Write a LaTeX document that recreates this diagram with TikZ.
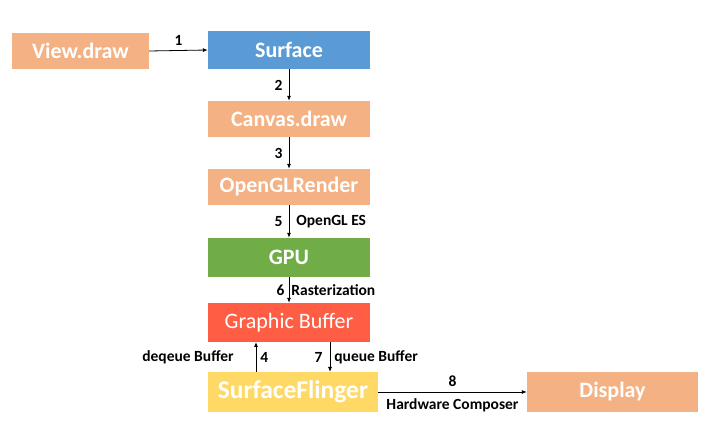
\documentclass[tikz,border=0pt]{standalone}
\usepackage{fontspec}
\setmainfont{Carlito}
\usetikzlibrary{arrows.meta}
\definecolor{peach}{HTML}{F4B183}
\definecolor{sblue}{HTML}{5B9BD5}
\definecolor{sgreen}{HTML}{70AD47}
\definecolor{sred}{HTML}{FF5E45}
\definecolor{syellow}{HTML}{FFD966}
\tikzset{
  box/.style={draw=none, inner sep=0pt, text=white, font=\fontsize{22}{24}\selectfont\bfseries},
  lbl/.style={font=\fontsize{15.5}{17}\selectfont\bfseries, text=black, inner sep=1pt},
  conn/.style={-{Latex[length=5pt,width=4pt]}, line width=0.8pt}
}
\begin{document}
\begin{tikzpicture}[x=1pt,y=-1pt]
\useasboundingbox (0,0) rectangle (718,435);
\node[box, fill=peach, minimum width=137pt, minimum height=36pt] (view) at (80.5,51) {View.draw};
\node[box, fill=sblue, minimum width=162pt, minimum height=38pt] (surf) at (289,50) {Surface};
\node[box, fill=peach, minimum width=162pt, minimum height=36pt] (canvas) at (289,119) {Canvas.draw};
\node[box, fill=peach, minimum width=162pt, minimum height=36pt] (ogl) at (289,187) {OpenGLRender};
\node[box, fill=sgreen, minimum width=162pt, minimum height=39pt] (gpu) at (289,257.5) {GPU};
\node[box, fill=sred, minimum width=162pt, minimum height=39pt, font=\fontsize{22}{24}\selectfont] (gb) at (289,322.5) {Graphic Buffer};
\node[box, fill=syellow, minimum width=170pt, minimum height=40pt, font=\fontsize{25.5}{27}\selectfont\bfseries] (sf) at (293,392) {SurfaceFlinger};
\node[box, fill=peach, minimum width=171pt, minimum height=40pt] (disp) at (612.5,392) {Display};

\draw[conn] (view.east) -- (surf.west) node[lbl, midway, above=4pt] (l1) {1};
\draw[conn] (surf.south) -- (canvas.north) node[lbl, midway, left=5pt] (l2) {2};
\draw[conn] (canvas.south) -- (ogl.north) node[lbl, midway, left=5pt] (l3) {3};
\draw[conn] (ogl.south) -- (gpu.north) node[lbl, midway, left=5pt] (l5) {5}
  node[lbl, midway, right=6pt] (l5b) {OpenGL ES};
\draw[conn] (gpu.south) -- (gb.north) node[lbl, midway, left=3pt] (l6) {6}
  node[lbl, midway, right=1pt] (l6b) {Rasterization};
\coordinate (c4a) at (256,372);
\coordinate (c4b) at (256,342);
\draw[conn] (c4a) -- (c4b) node[lbl, midway, right=3pt] (l4) {4}
  node[lbl, midway, left=21pt] (l4b) {deqeue Buffer};
\coordinate (c7a) at (330,342);
\coordinate (c7b) at (330,372);
\draw[conn] (c7a) -- (c7b) node[lbl, midway, left=6pt] (l7) {7}
  node[lbl, midway, right=3pt] (l7b) {queue Buffer};
\draw[conn] (sf.east) -- (disp.west) node[lbl, midway, above=4pt] (l8) {8}
  node[lbl, midway, below=5pt] (l8b) {Hardware Composer};
\end{tikzpicture}
\end{document}
